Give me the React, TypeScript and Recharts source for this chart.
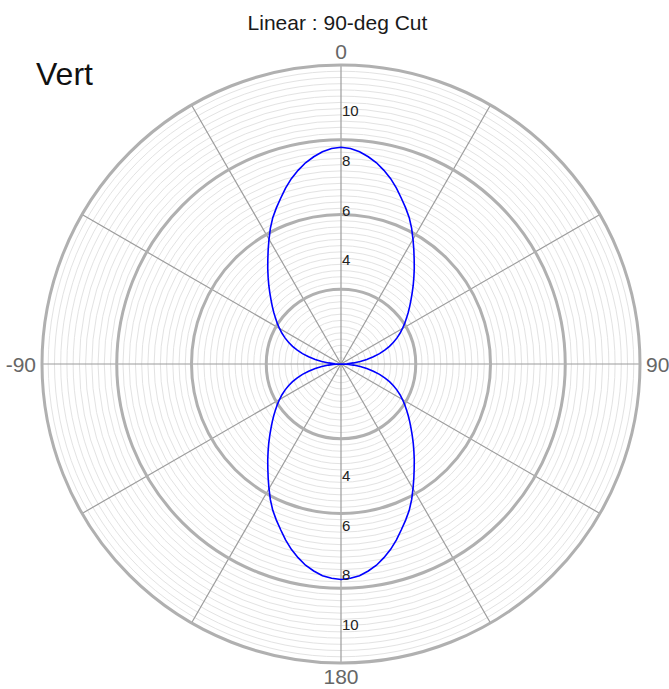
import { RadarChart, Radar, PolarGrid, PolarAngleAxis, PolarRadiusAxis } from 'recharts';

// angle in degrees, 0 at top, clockwise
const angles = [
  0, 2.5, 5, 7.5, 10, 12.5, 15, 17.5, 20, 22.5, 25, 27.5, 30, 32.5, 35, 37.5, 40, 42.5,
  45, 47.5, 50, 52.5, 55, 57.5, 60, 62.5, 65, 67.5, 70, 72.5, 75, 77.5, 80, 82.5, 85, 87.5,
  90, 92.5, 95, 97.5, 100, 102.5, 105, 107.5, 110, 112.5, 115, 117.5, 120, 122.5, 125, 127.5, 130, 132.5,
  135, 137.5, 140, 142.5, 145, 147.5, 150, 152.5, 155, 157.5, 160, 162.5, 165, 167.5, 170, 172.5, 175, 177.5,
  180, 182.5, 185, 187.5, 190, 192.5, 195, 197.5, 200, 202.5, 205, 207.5, 210, 212.5, 215, 217.5, 220, 222.5,
  225, 227.5, 230, 232.5, 235, 237.5, 240, 242.5, 245, 247.5, 250, 252.5, 255, 257.5, 260, 262.5, 265, 267.5,
  270, 272.5, 275, 277.5, 280, 282.5, 285, 287.5, 290, 292.5, 295, 297.5, 300, 302.5, 305, 307.5, 310, 312.5,
  315, 317.5, 320, 322.5, 325, 327.5, 330, 332.5, 335, 337.5, 340, 342.5, 345, 347.5, 350, 352.5, 355, 357.5,
];

// linear gain
const gain = [
  8.7, 8.66, 8.55, 8.39, 8.2, 7.96, 7.7, 7.4, 7.08, 6.78, 6.48, 6.14, 5.78, 5.44, 5.12, 4.83, 4.55, 4.29,
  4.04, 3.81, 3.6, 3.4, 3.21, 3.03, 2.85, 2.67, 2.48, 2.28, 2.07, 1.84, 1.6, 1.33, 1.05, 0.78, 0.5, 0.25,
  0, 0.25, 0.5, 0.78, 1.05, 1.33, 1.6, 1.84, 2.07, 2.28, 2.48, 2.67, 2.85, 3.03, 3.21, 3.4, 3.6, 3.81,
  4.04, 4.29, 4.55, 4.83, 5.12, 5.44, 5.78, 6.14, 6.48, 6.78, 7.08, 7.4, 7.7, 7.96, 8.2, 8.38, 8.53, 8.61,
  8.65, 8.61, 8.53, 8.38, 8.2, 7.96, 7.7, 7.4, 7.08, 6.78, 6.48, 6.14, 5.78, 5.44, 5.12, 4.83, 4.55, 4.29,
  4.04, 3.81, 3.6, 3.4, 3.21, 3.03, 2.85, 2.67, 2.48, 2.28, 2.07, 1.84, 1.6, 1.33, 1.05, 0.78, 0.5, 0.25,
  0, 0.25, 0.5, 0.78, 1.05, 1.33, 1.6, 1.84, 2.07, 2.28, 2.48, 2.67, 2.85, 3.03, 3.21, 3.4, 3.6, 3.81,
  4.04, 4.29, 4.55, 4.83, 5.12, 5.44, 5.78, 6.14, 6.48, 6.78, 7.08, 7.4, 7.7, 7.96, 8.2, 8.39, 8.55, 8.66,
];

const angleLabels: Record<number, string> = { 0: '0', 90: '90', 180: '180', 270: '-90' };
const radialLabels = [4, 6, 8, 10];
const spokeAngles = [0, 30, 60, 90, 120, 150, 180, 210, 240, 270, 300, 330];
const majorRings = [3, 6, 9, 12];
const RADIUS_MAX = 12;
const FINE_STEP = 0.25;

const data = angles.map((a, i) => ({ angle: a, gain: gain[i] }));

const FONT = 'Liberation Sans, Arial, Helvetica, sans-serif';
const W = 669;
const H = 689;
const CX = 341;
const CY = 364;
const R = 299;

// ring radii in px, same linear mapping as the radius axis (domain 0..12 -> 0..R)
const toPx = (v: number) => (v / RADIUS_MAX) * R;
const fineRings = Array.from({ length: RADIUS_MAX / FINE_STEP }, (_, i) => toPx((i + 1) * FINE_STEP));
const majorPx = majorRings.map(toPx);

const AngleTick = ({ x, y, payload, textAnchor }: any) => {
  const label = angleLabels[payload.value];
  if (label === undefined) return null;
  const dy = payload.value === 0 ? 0 : payload.value === 180 ? 15 : 7.5;
  return (
    <text x={x} y={y} dy={dy} textAnchor={textAnchor} fill="#666" fontSize={21} fontFamily={FONT}>
      {label}
    </text>
  );
};

const makeRadiusTick = (dy: number) => ({ x, y, payload }: any) => {
  if (!radialLabels.includes(payload.value)) return null;
  return (
    <text x={x + 1} y={y} dy={dy} textAnchor="start" fill="#222" fontSize={15} fontFamily={FONT}>
      {payload.value}
    </text>
  );
};

const TopTick = makeRadiusTick(1);
const BottomTick = makeRadiusTick(17);

export default function App() {
  return (
    <div style={{ position: 'absolute', left: 0, top: 0, width: W, height: H, background: '#fff' }}>
      <RadarChart
        width={W}
        height={H}
        data={data}
        cx={CX}
        cy={CY}
        outerRadius={R}
        startAngle={90}
        endAngle={-270}
        margin={{ top: 0, right: 0, bottom: 0, left: 0 }}
      >
        <PolarGrid gridType="circle" polarAngles={[]} polarRadius={fineRings} radialLines={false} stroke="#e3e3e3" strokeWidth={1} />
        <PolarGrid gridType="circle" polarAngles={spokeAngles} polarRadius={[]} stroke="#9c9c9c" strokeWidth={1.2} />
        <PolarGrid gridType="circle" polarAngles={[]} polarRadius={majorPx} radialLines={false} stroke="#b0b0b0" strokeWidth={3} />
        <PolarAngleAxis
          dataKey="angle"
          tick={AngleTick}
          tickLine={false}
          axisLine={false}
          tickSize={6}
        />
        <PolarRadiusAxis radiusAxisId="bottom" angle={-90} domain={[0, 12]} tickCount={7} tick={BottomTick} axisLine={false} tickLine={false} />
        <PolarRadiusAxis angle={90} domain={[0, 12]} tickCount={7} tick={TopTick} axisLine={false} tickLine={false} />
        <Radar
          dataKey="gain"
          radiusAxisId="bottom"
          stroke="none"
          fill="none"
          fillOpacity={0}
          dot={false}
          isAnimationActive={false}
        />
        <Radar
          dataKey="gain"
          stroke="#0000ff"
          strokeWidth={1.6}
          fill="none"
          fillOpacity={0}
          dot={false}
          isAnimationActive={false}
        />
      </RadarChart>
      <svg width={W} height={H} style={{ position: 'absolute', left: 0, top: 0, pointerEvents: 'none' }}>
        <text x={337.5} y={30} textAnchor="middle" fontSize={21} fill="#1a1a1a" fontFamily={FONT}>
          Linear : 90-deg Cut
        </text>
        <text x={36} y={85} fontSize={32} fill="#111" fontFamily={FONT}>
          Vert
        </text>
      </svg>
    </div>
  );
}
